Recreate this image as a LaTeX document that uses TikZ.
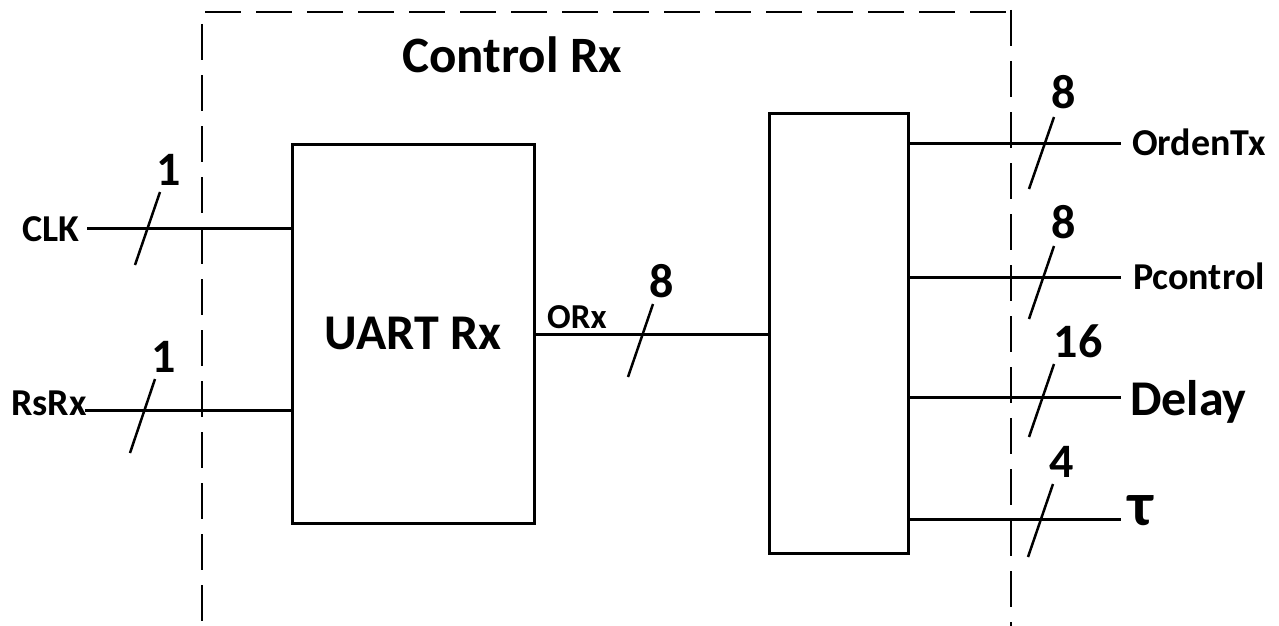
\documentclass[tikz,border=0pt]{standalone}
\usepackage{fontspec}
\setmainfont{Carlito}
\begin{document}
\begin{tikzpicture}[x=1pt,y=-1pt,
  blockbox/.style={draw,line width=3pt,inner sep=0pt},
  wire/.style={line width=3pt},
  busmark/.style={line width=2.5pt},
  frame/.style={line width=2pt,dash pattern=on 36pt off 15pt},
  txt/.style={inner sep=0pt,anchor=base west},
  fsig/.style={font=\fontsize{38}{38}\selectfont\bfseries},
  fbig/.style={font=\fontsize{50}{50}\selectfont\bfseries},
  fsmall/.style={font=\fontsize{35}{35}\selectfont\bfseries},
  num/.style={inner sep=0pt,anchor=base,font=\fontsize{48}{48}\selectfont\bfseries}]
\useasboundingbox (0,0) rectangle (1279,626);

% dashed frame
\draw[frame] (202,24) -- (202,626);
\draw[frame] (205,12) -- (1008,12);
\draw[frame] (1011,10) -- (1011,626);

\node[txt,font=\fontsize{51}{51}\selectfont\bfseries] (title) at (402,72) {Control Rx};

% blocks
\node[blockbox,minimum width=242pt,minimum height=379pt,font=\fontsize{50}{50}\selectfont\bfseries] (uart) at (413,333.5) {UART Rx};
\node[blockbox,minimum width=139pt,minimum height=440pt] (ctl) at (838.5,333) {};

% inputs
\node[txt,fsig] (clk) at (22,241) {CLK};
\node[txt,fsig] (rsrx) at (11,415) {RsRx};
\coordinate (clkend) at (87,228);
\coordinate (rsend) at (85,410);
\draw[wire] (clkend) -- (clkend -| uart.west);
\draw[wire] (rsend) -- (rsend -| uart.west);
\draw[busmark] (135,265) -- (160,192);
\draw[busmark] (130,453) -- (155,379);
\node[num] (n1) at (169,185) {1};
\node[num] (n2) at (164,372) {1};

% internal bus
\coordinate (orxy) at (0,334);
\draw[wire] (uart.east |- orxy) -- (ctl.west |- orxy);
\node[txt,fsmall] (orx) at (547,328) {ORx};
\draw[busmark] (628,377) -- (653,304);
\node[num] (n3) at (662,297) {8};

% outputs
\coordinate (o1) at (1121,143);
\coordinate (o2) at (1121,277);
\coordinate (o3) at (1121,397);
\coordinate (o4) at (1121,519);
\draw[wire] (ctl.east |- o1) -- (o1);
\draw[wire] (ctl.east |- o2) -- (o2);
\draw[wire] (ctl.east |- o3) -- (o3);
\draw[wire] (ctl.east |- o4) -- (o4);
\draw[busmark] (1029,189) -- (1054,117);
\draw[busmark] (1029,319) -- (1054,246);
\draw[busmark] (1029,437) -- (1054,364);
\draw[busmark] (1028,557) -- (1053,484);
\node[num] (n4) at (1064,108) {8};
\node[num] (n5) at (1064,238) {8};
\node[num] (n6) at (1078,357) {16};
\node[num] (n7) at (1062,477) {4};

\node[txt,fsig] (ordentx) at (1132,155) {OrdenTx};
\node[txt,fsig] (pcontrol) at (1133,289) {Pcontrol};
\node[txt,fbig] (delay) at (1130,415) {Delay};
\node[txt,font=\fontsize{62}{62}\selectfont\bfseries] (tau) at (1128,525) {τ};
\end{tikzpicture}
\end{document}
